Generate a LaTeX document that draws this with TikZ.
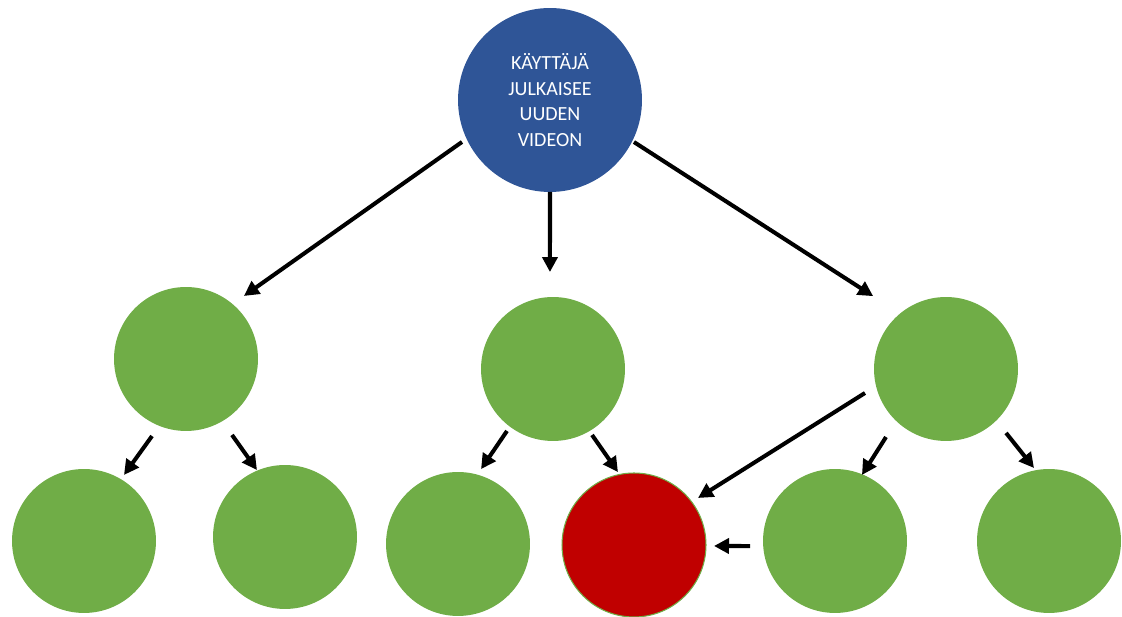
\documentclass[tikz,border=0pt]{standalone}
\usepackage{fontspec}
\setmainfont{Carlito}
\usetikzlibrary{arrows.meta,calc}
\definecolor{topblue}{HTML}{2F5597}
\definecolor{leafgreen}{HTML}{70AD47}
\definecolor{hitred}{HTML}{C00000}
\begin{document}
\begin{tikzpicture}[x=0.02cm,y=0.02cm,
  ball/.style={circle,fill=leafgreen,inner sep=0pt,minimum size=2.88cm},
  topball/.style={circle,fill=topblue,inner sep=0pt,minimum size=3.68cm,
    text=white,align=center,font=\fontsize{11.4}{14.5}\selectfont},
  redball/.style={ball,fill=hitred,draw=leafgreen,line width=0.6pt},
  arr/.style={line width=2.3pt,-{Triangle[length=0.3cm,width=0.3cm]}}]
\useasboundingbox (0,0) rectangle (1122,617);
% nodes (y measured upward: Y = 617 - pixel y)
\node[topball] (top) at (550,517) {KÄYTTÄJÄ\\JULKAISEE\\UUDEN\\VIDEON};
\node[ball] (L) at (186,258) {};
\node[ball] (M) at (553,248) {};
\node[ball] (R) at (946,248) {};
\node[ball] (b1) at (84,76) {};
\node[ball] (b2) at (285,80) {};
\node[ball] (b3) at (458,73) {};
\node[redball] (red) at (634,72) {};
\node[ball] (b5) at (835,76) {};
\node[ball] (b6) at (1049,76) {};
% arrows
\draw[arr] ($(top)+(205.5:97.5)$) -- ($(L)+(47.4:85.6)$);
\draw[arr] ($(top)+(270:92)$) -- ($(M)+(91.8:97)$);
\draw[arr] ($(top)+(333.4:93.9)$) -- ($(R)+(135:103)$);
\draw[arr] ($(L)+(246.2:84.2)$) -- ($(b1)+(58.8:77.2)$);
\draw[arr] ($(L)+(301.2:88.8)$) -- ($(b2)+(112.7:72.6)$);
\draw[arr] ($(M)+(233.4:77.2)$) -- ($(b3)+(72.9:78.4)$);
\draw[arr] ($(M)+(300.6:76.7)$) -- ($(red)+(102.4:74.7)$);
\draw[arr] ($(R)+(196.5:84.5)$) -- ($(red)+(36.3:79.4)$);
\draw[arr] ($(R)+(228.6:90.7)$) -- ($(b5)+(67.8:71.3)$);
\draw[arr] ($(R)+(313.2:87.7)$) -- ($(b6)+(101.6:74.5)$);
\draw[arr] ($(b5)+(183.4:85.1)$) -- ($(red)+(359.3:80)$);
\end{tikzpicture}
\end{document}
